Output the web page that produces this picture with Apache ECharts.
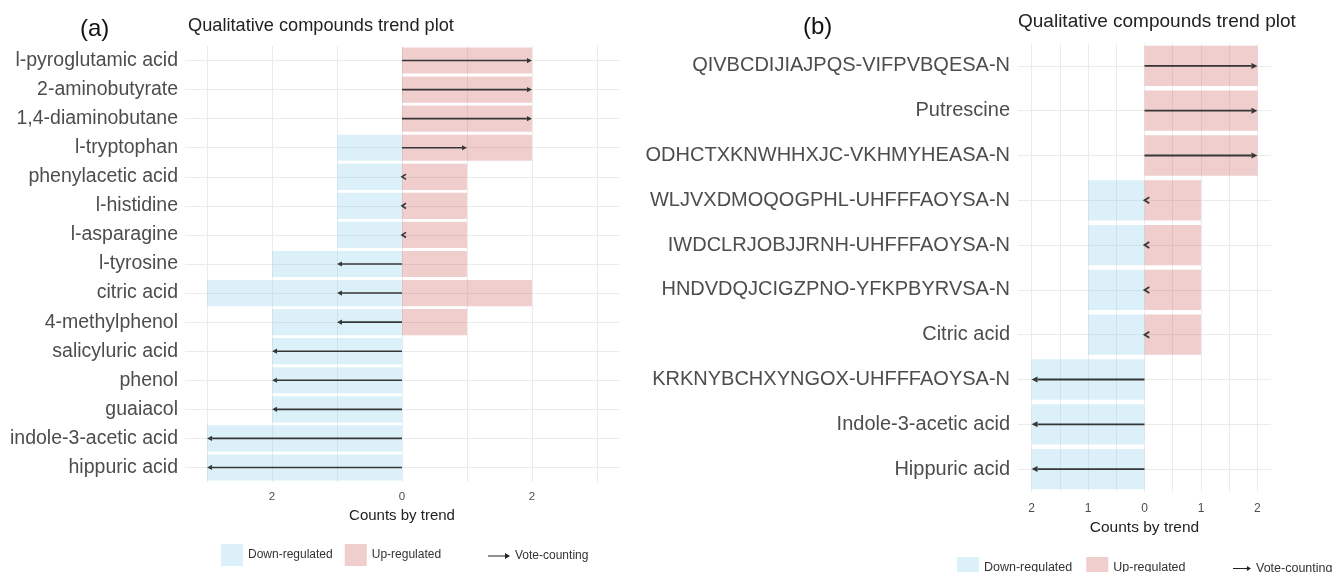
<!DOCTYPE html>
<html><head><meta charset="utf-8">
<script src="https://cdn.jsdelivr.net/npm/echarts@6/dist/echarts.min.js"></script>
<style>html,body{margin:0;padding:0;background:#fff}#c{width:1341px;height:572px}</style>
</head><body><div id="c"></div>
<script>
// ---------- Panel (a) data ----------
const catsA = ['l-pyroglutamic acid','2-aminobutyrate','1,4-diaminobutane','l-tryptophan','phenylacetic acid','l-histidine','l-asparagine','l-tyrosine','citric acid','4-methylphenol','salicyluric acid','phenol','guaiacol','indole-3-acetic acid','hippuric acid'];
const downA = [0,0,0,1,1,1,1,2,3,2,2,2,2,3,3];
const upA   = [2,2,2,2,1,1,1,1,2,1,0,0,0,0,0];
const voteA = [2,2,2,1,0,0,0,-1,-1,-1,-2,-2,-2,-3,-3];
const gridTicksA = [-3,-2,-1,0,1,2,3];
const tickLabelsA = [-2,0,2];

// ---------- Panel (b) data ----------
const catsB = ['QIVBCDIJIAJPQS-VIFPVBQESA-N','Putrescine','ODHCTXKNWHHXJC-VKHMYHEASA-N','WLJVXDMOQOGPHL-UHFFFAOYSA-N','IWDCLRJOBJJRNH-UHFFFAOYSA-N','HNDVDQJCIGZPNO-YFKPBYRVSA-N','Citric acid','KRKNYBCHXYNGOX-UHFFFAOYSA-N','Indole-3-acetic acid','Hippuric acid'];
const downB = [0,0,0,1,1,1,1,2,2,2];
const upB   = [2,2,2,1,1,1,1,0,0,0];
const voteB = [2,2,2,0,0,0,0,-2,-2,-2];
const gridTicksB = [-2,-1.5,-1,-0.5,0,0.5,1,1.5,2];
const tickLabelsB = [-2,-1,0,1,2];

const FONT = '"Liberation Sans", Arial, Helvetica, sans-serif';
const BLUE = 'rgba(135,206,235,0.3)';
const PINK = 'rgba(205,92,92,0.3)';
const ARROW = '#363636';
const GRIDC = '#ebebeb';

function arrowRenderer(len, half, lw) {
  return function (params, api) {
    const v = api.value(0), idx = api.value(1);
    const p0 = api.coord([0, idx]);
    const p1 = api.coord([v, idx]);
    const y = p0[1];
    if (v === 0) {
      return {type: 'polyline', shape: {points: [[p0[0] + len * 0.8, y - half], [p0[0], y], [p0[0] + len * 0.8, y + half]]},
        style: {stroke: ARROW, lineWidth: lw, fill: null}};
    }
    const dir = v > 0 ? 1 : -1;
    const tip = p1[0], base = tip - dir * len;
    return {type: 'group', children: [
      {type: 'line', shape: {x1: p0[0], y1: y, x2: base, y2: y}, style: {stroke: ARROW, lineWidth: lw}},
      {type: 'polygon', shape: {points: [[tip, y], [base, y - half], [base, y + half]]}, style: {fill: ARROW}}
    ]};
  };
}

function xAxisFor(gi, lim, ticks, labels, labelMargin, nameGap, nameSize, tickSize) {
  return {
    gridIndex: gi, type: 'value', min: -lim, max: lim,
    axisLine: {show: false},
    axisTick: {show: false, customValues: ticks},
    splitLine: {show: true, customValues: ticks, lineStyle: {color: GRIDC, width: 1}},
    axisLabel: {customValues: labels, formatter: v => String(Math.abs(v)), color: '#4d4d4d',
      fontSize: tickSize, fontFamily: FONT, margin: labelMargin},
    name: 'Counts by trend', nameLocation: 'middle', nameGap: nameGap,
    nameTextStyle: {fontSize: nameSize, color: '#222', fontFamily: FONT}
  };
}
function yAxisFor(gi, cats, size, margin) {
  return {
    gridIndex: gi, type: 'category', data: cats, inverse: true,
    axisLine: {show: false}, axisTick: {show: false},
    splitLine: {show: true, alignWithLabel: true, lineStyle: {color: GRIDC, width: 1}},
    axisLabel: {color: '#4d4d4d', fontSize: size, fontFamily: FONT, margin: margin}
  };
}

const arrowIcon = 'path://M0,3.4 L17,3.4 L17,1 L22,4 L17,7 L17,4.6 L0,4.6 Z';

const option = {
  animation: false,
  backgroundColor: '#fff',
  title: [
    {text: '(a)', left: 80, top: 17, padding: 0, textStyle: {fontSize: 24, fontWeight: 'normal', color: '#111', fontFamily: FONT}},
    {text: 'Qualitative compounds trend plot', left: 188, top: 17, padding: 0, textStyle: {fontSize: 18.2, fontWeight: 'normal', color: '#222', fontFamily: FONT}},
    {text: '(b)', left: 803, top: 15, padding: 0, textStyle: {fontSize: 24, fontWeight: 'normal', color: '#111', fontFamily: FONT}},
    {text: 'Qualitative compounds trend plot', left: 1018, top: 12, padding: 0, textStyle: {fontSize: 19, fontWeight: 'normal', color: '#222', fontFamily: FONT}}
  ],
  legend: [
    {data: [{name: 'Down-regulated', icon: 'rect'}, {name: 'Up-regulated', icon: 'rect'}], left: 221, top: 544,
      itemWidth: 22, itemHeight: 22, itemGap: 12, selectedMode: false, padding: 0,
      textStyle: {fontSize: 12, color: '#333', fontFamily: FONT}},
    {data: [{name: 'Vote-counting', icon: arrowIcon, itemStyle: {color: '#222'}}], left: 488, top: 550,
      itemWidth: 22, itemHeight: 22, selectedMode: false, padding: 0,
      textStyle: {fontSize: 12, color: '#333', fontFamily: FONT}},
    {data: [{name: 'Down-regulated', icon: 'rect'}, {name: 'Up-regulated', icon: 'rect'}], left: 957, top: 557,
      itemWidth: 22, itemHeight: 22, itemGap: 14, selectedMode: false, padding: 0,
      textStyle: {fontSize: 12.5, color: '#333', fontFamily: FONT}},
    {data: [{name: 'Vote-counting', icon: arrowIcon, itemStyle: {color: '#222'}}], left: 1233, top: 562,
      itemWidth: 18, itemHeight: 22, selectedMode: false, padding: 0,
      textStyle: {fontSize: 12.5, color: '#333', fontFamily: FONT}}
  ],
  grid: [
    {left: 185, width: 434, top: 46, height: 436},
    {left: 1018, width: 253, top: 43.5, height: 448}
  ],
  xAxis: [
    xAxisFor(0, 3.34, gridTicksA, tickLabelsA, 9, 23, 15, 11.5),
    xAxisFor(1, 2.24, gridTicksB, tickLabelsB, 11, 26, 15.5, 12)
  ],
  yAxis: [
    yAxisFor(0, catsA, 19.5, 7),
    yAxisFor(1, catsB, 20, 8)
  ],
  series: [
    {name: 'Down-regulated', type: 'bar', xAxisIndex: 0, yAxisIndex: 0, stack: 'a', barWidth: '90%',
      itemStyle: {color: BLUE}, data: downA.map(v => -v)},
    {name: 'Up-regulated', type: 'bar', xAxisIndex: 0, yAxisIndex: 0, stack: 'a', barWidth: '90%',
      itemStyle: {color: PINK}, data: upA.slice()},
    {name: 'Vote-counting', type: 'custom', xAxisIndex: 0, yAxisIndex: 0, z: 5,
      itemStyle: {color: ARROW}, encode: {x: 0, y: 1},
      renderItem: arrowRenderer(5, 2.6, 1.6), data: voteA.map((v, i) => [v, i])},
    {name: 'Down-regulated', type: 'bar', xAxisIndex: 1, yAxisIndex: 1, stack: 'b', barWidth: '90%',
      itemStyle: {color: BLUE}, data: downB.map(v => -v)},
    {name: 'Up-regulated', type: 'bar', xAxisIndex: 1, yAxisIndex: 1, stack: 'b', barWidth: '90%',
      itemStyle: {color: PINK}, data: upB.slice()},
    {name: 'Vote-counting', type: 'custom', xAxisIndex: 1, yAxisIndex: 1, z: 5,
      itemStyle: {color: ARROW}, encode: {x: 0, y: 1},
      renderItem: arrowRenderer(6, 3, 1.8), data: voteB.map((v, i) => [v, i])}
  ]
};
const chart = echarts.init(document.getElementById('c'), null, {renderer: 'canvas'});
chart.setOption(option);
</script></body></html>
